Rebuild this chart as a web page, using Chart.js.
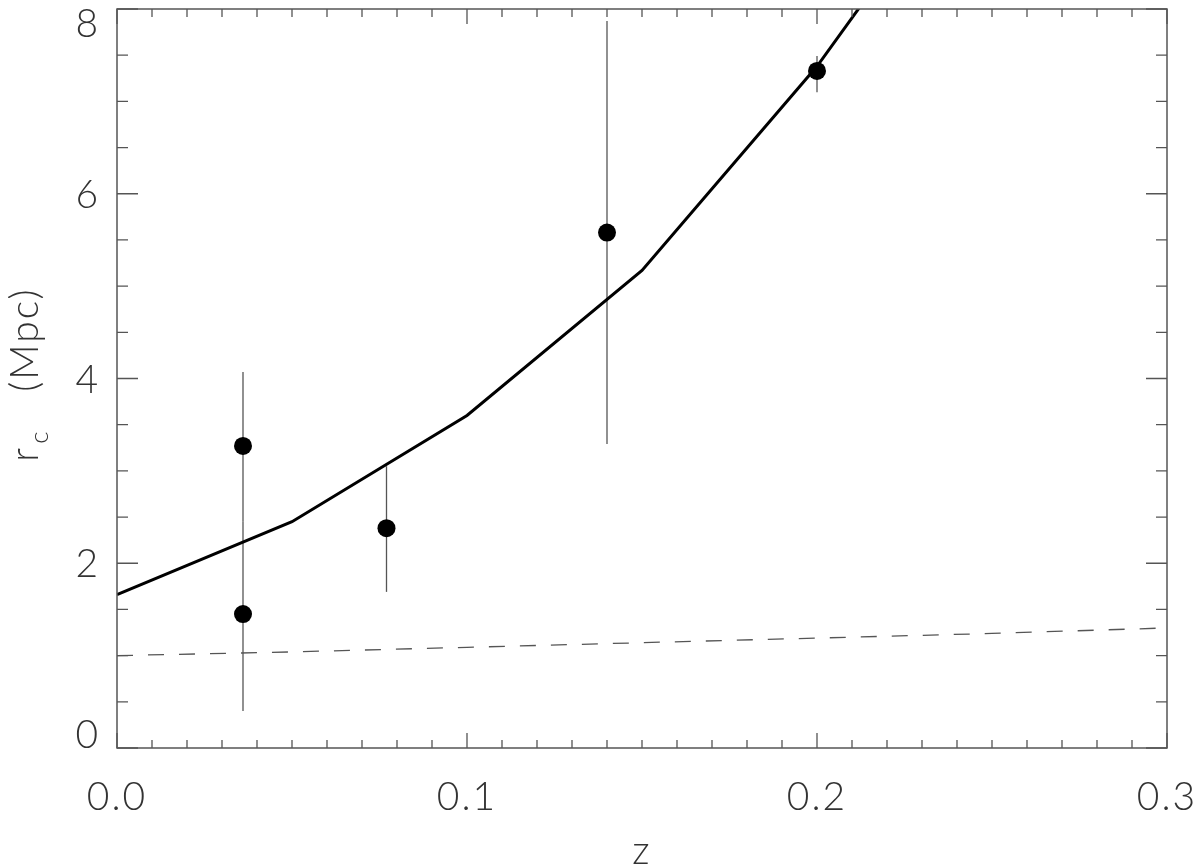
<!DOCTYPE html>
<html>
<head>
<meta charset="utf-8">
<script src="https://cdn.jsdelivr.net/npm/chart.js@4.4.1/dist/chart.umd.min.js"></script>
<style>
  html, body { margin: 0; padding: 0; background: #fff; }
  #wrap { width: 1200px; height: 868px; }
</style>
</head>
<body>
<div id="wrap"><canvas id="chartCore"></canvas></div>
<script>
// observed clusters: redshift, core radius and error bar ends (Mpc)
const zObs   = [0.036, 0.036, 0.077, 0.140, 0.200];
const rcObs  = [3.27, 1.45, 2.38, 5.58, 7.33];
const rcLow  = [2.45, 0.40, 1.69, 3.29, 7.10];
const rcHigh = [4.07, 2.45, 3.05, 7.87, 7.49];

// solid model curve
const zModel  = [0.00, 0.05, 0.10, 0.15, 0.20, 0.25];
const rcModel = [1.66, 2.45, 3.60, 5.17, 7.38, 10.0];

// dashed curve
const zFlat  = [0.00, 0.05, 0.10, 0.15, 0.20, 0.25, 0.30];
const rcFlat = [1.00, 1.04, 1.09, 1.14, 1.19, 1.24, 1.30];

const xTickLabels = ['0.0', '0.1', '0.2', '0.3'];
const yTickLabels = ['0', '2', '4', '6', '8'];

const ink = '#555';
const txt = '#333';
const fam = 'Lato, "DejaVu Sans", sans-serif';

const pts = (xs, ys) => xs.map((v, i) => ({ x: v, y: ys[i] }));

const errBars = {
  id: 'errBars',
  beforeDatasetsDraw(chart) {
    const { ctx, scales: { x, y } } = chart;
    ctx.save();
    ctx.strokeStyle = ink;
    ctx.lineWidth = 1.3;
    zObs.forEach((z, i) => {
      const px = x.getPixelForValue(z);
      ctx.beginPath();
      ctx.moveTo(px, y.getPixelForValue(rcLow[i]));
      ctx.lineTo(px, y.getPixelForValue(rcHigh[i]));
      ctx.stroke();
    });
    ctx.restore();
  }
};

// box, inward ticks on all sides, labels
const frame = {
  id: 'frame',
  afterDraw(chart) {
    const { ctx, chartArea: a, scales: { x, y } } = chart;
    ctx.save();
    ctx.strokeStyle = ink;
    ctx.lineWidth = 1.5;
    ctx.strokeRect(a.left, a.top, a.right - a.left, a.bottom - a.top);

    ctx.lineWidth = 1.3;
    ctx.beginPath();
    for (let k = 0; k <= 30; k++) {
      const px = x.getPixelForValue(k / 100);
      const len = k % 10 === 0 ? 15 : 8;
      ctx.moveTo(px, a.bottom); ctx.lineTo(px, a.bottom - len);
      ctx.moveTo(px, a.top); ctx.lineTo(px, a.top + len);
    }
    for (let k = 0; k <= 16; k++) {
      const py = y.getPixelForValue(k * 0.5);
      const len = k % 4 === 0 ? 21 : 11;
      ctx.moveTo(a.left, py); ctx.lineTo(a.left + len, py);
      ctx.moveTo(a.right, py); ctx.lineTo(a.right - len, py);
    }
    ctx.stroke();

    ctx.fillStyle = txt;
    ctx.font = '300 39px ' + fam;
    ctx.textBaseline = 'alphabetic';
    ctx.letterSpacing = '2px';

    ctx.textAlign = 'right';
    yTickLabels.forEach(l => {
      let py = y.getPixelForValue(parseFloat(l));
      py = Math.min(Math.max(py, a.top + 14), a.bottom - 14);
      ctx.fillText(l, a.left - 17, py + 14);
    });

    ctx.textAlign = 'center';
    xTickLabels.forEach(l => {
      ctx.fillText(l, x.getPixelForValue(parseFloat(l)), a.bottom + 62);
    });
    ctx.fillText('z', (a.left + a.right) / 2, 864);

    // y title with subscript
    const big = '300 39px ' + fam, small = '300 26px ' + fam;
    ctx.font = big;
    const wr = ctx.measureText('r').width;
    const wt = ctx.measureText('   (Mpc)').width;
    ctx.font = small;
    const wc = ctx.measureText('c').width;
    const total = wr + wc + wt;
    ctx.translate(38, (a.top + a.bottom) / 2 - 3);
    ctx.rotate(-Math.PI / 2);
    ctx.textAlign = 'left';
    let cx = -total / 2;
    ctx.font = big;
    ctx.fillText('r', cx, 0);
    cx += wr + 2;
    ctx.font = small;
    ctx.fillText('c', cx, 10);
    cx += wc;
    ctx.font = big;
    ctx.fillText('   (Mpc)', cx, 0);
    ctx.restore();
  }
};

new Chart(document.getElementById('chartCore'), {
  type: 'scatter',
  data: {
    datasets: [
      {
        label: 'observed',
        data: pts(zObs, rcObs),
        pointRadius: 9,
        pointBackgroundColor: '#000',
        pointBorderWidth: 0,
        showLine: false
      },
      {
        label: 'model',
        data: pts(zModel, rcModel),
        showLine: true,
        borderColor: '#000',
        borderWidth: 3,
        pointRadius: 0
      },
      {
        label: 'dashed',
        data: pts(zFlat, rcFlat),
        showLine: true,
        borderColor: ink,
        borderWidth: 1.3,
        borderDash: [16, 15],
        pointRadius: 0
      }
    ]
  },
  plugins: [errBars, frame],
  options: {
    responsive: true,
    maintainAspectRatio: false,
    animation: false,
    layout: { padding: { left: 117, right: 33, top: 5, bottom: 120 } },
    plugins: { legend: { display: false }, tooltip: { enabled: false } },
    scales: {
      x: { type: 'linear', min: 0, max: 0.3, display: false },
      y: { type: 'linear', min: 0, max: 8, display: false }
    }
  }
});
</script>
</body>
</html>
